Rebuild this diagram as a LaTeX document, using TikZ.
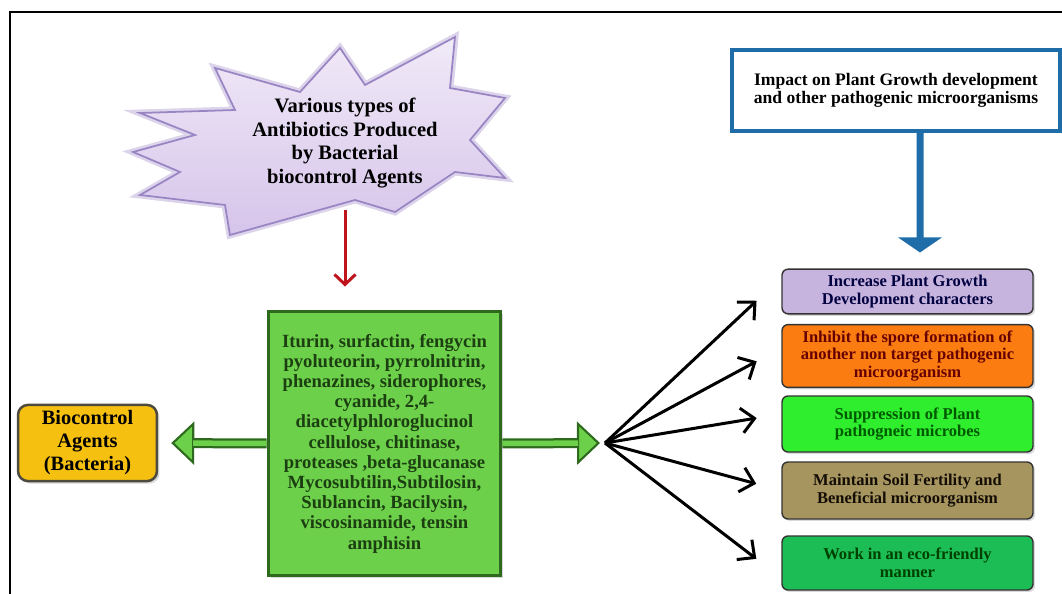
\documentclass[tikz,border=0pt]{standalone}
\usepackage{fontspec}
\setmainfont{Liberation Serif}
\usetikzlibrary{arrows.meta,shadows}
\definecolor{lila}{HTML}{D6C4EA}
\definecolor{lilaedge}{HTML}{9A85C4}
\definecolor{midgreen}{HTML}{6DD04A}
\definecolor{dkgreen}{HTML}{2E6A1E}
\definecolor{gold}{HTML}{F6C010}
\definecolor{impblue}{HTML}{1F6DA8}
\definecolor{redarrow}{HTML}{C0141C}
\definecolor{violet1}{HTML}{C7B4DE}
\definecolor{orange1}{HTML}{FB7D12}
\definecolor{green1}{HTML}{2EEE2E}
\definecolor{khaki1}{HTML}{A7955F}
\definecolor{green2}{HTML}{1DBD55}
\begin{document}
\begin{tikzpicture}[x=0.02cm,y=-0.02cm]
            \tikzset{s/.style={draw=black!80,line width=0.8pt,rounded corners=1.2mm,minimum width=5.02cm,align=center,font=\bfseries\fontsize{9.4}{10.2}\selectfont,drop shadow={opacity=0.3,shadow xshift=0.04cm,shadow yshift=-0.04cm}},
            fan/.style={line width=0.06cm,-{Straight Barb[length=0.26cm,width=0.5cm]}},
            gout/.style={line width=0.2cm,draw=dkgreen,-{Triangle[length=0.46cm,width=0.86cm,fill=midgreen,line width=1.2pt]}},
            gin/.style={line width=0.11cm,draw=midgreen}}
            \useasboundingbox(0,0)rectangle(1062,594);
            \draw[line width=1.3pt](10,594)--(10,12)--(1062,12);
            %    %%star
            \draw[line width=1pt,draw=lilaedge,top color=lila!35,bottom color=lila,line join=miter,preaction={draw=lilaedge!35,line width=0.14cm}]
            (133,152)--(195,135)--(140,113)--(235,110)--(215,68)--(300,92)--(340,48)--(365,85)--(455,37)--(450,88)--(505,98)--(470,140)--(505,178)--(455,172)--(395,212)--(355,200)--(230,235)--(225,205)--(140,195)--(180,172)--cycle;
            \node[align=center,font=\bfseries\fontsize{11.7}{13.4}\selectfont](burst) at (345,143){Various types of\\Antibiotics Produced\\by Bacterial\\biocontrol Agents};
            \coordinate(bb) at (345,210);
            %    %%boxes
            \node[draw=dkgreen,line width=0.06cm,fill=midgreen,minimum width=4.66cm,minimum height=5.3cm,align=center,text=dkgreen!60!black,font=\bfseries\fontsize{10.6}{11.5}\selectfont,drop shadow={opacity=0.3,shadow xshift=0.05cm,shadow yshift=-0.05cm}](mid) at (384.5,443.5){Iturin, surfactin, fengycin\\pyoluteorin, pyrrolnitrin,\\phenazines, siderophores,\\cyanide, 2,4-\\diacetylphloroglucinol\\cellulose, chitinase,\\proteases ,beta-glucanase\\Mycosubtilin,Subtilosin,\\Sublancin, Bacilysin,\\viscosinamide, tensin\\amphisin};
            \node[draw=black!80!yellow,line width=0.05cm,fill=gold,rounded corners=2mm,minimum width=2.78cm,minimum height=1.48cm,align=center,font=\bfseries\fontsize{11.6}{13.1}\selectfont,drop shadow={opacity=0.3,shadow xshift=0.05cm,shadow yshift=-0.05cm}](bca) at (87.5,443){Biocontrol\\Agents\\(Bacteria)};
            \node[draw=impblue,line width=0.08cm,fill=white,minimum width=6.56cm,minimum height=1.62cm,align=center,font=\bfseries\fontsize{10}{10.2}\selectfont](imp) at (896,90.5){Impact on Plant Growth development\\and other pathogenic microorganisms};
            \path(907.5,291.5)node[s,fill=violet1,minimum height=0.82cm,text=blue!25!black](r1){Increase Plant Growth\\Development characters}
            (907.5,356)node[s,fill=orange1,minimum height=1.16cm,text=red!40!black](r2){Inhibit the spore formation of\\another non target pathogenic\\microorganism}
            (907.5,424)node[s,fill=green1,minimum height=1.12cm,text=green!35!black](r3){Suppression of Plant\\pathogneic microbes}
            (907.5,490.5)node[s,fill=khaki1,minimum height=1.14cm,text=black!90!brown](r4){Maintain Soil Fertility and\\Beneficial microorganism}
            (907.5,563)node[s,fill=green2,minimum height=1.08cm,text=green!25!black](r5){Work in an eco-friendly\\manner};
            \coordinate(hub) at (605,443);
            %    %%arrows
            \draw[redarrow,line width=0.06cm,-{Straight Barb[length=0.2cm,width=0.42cm]},shorten >=0.46cm](bb)--(bb|-mid.north);
            \draw[impblue,line width=0.14cm,-{Triangle[length=0.3cm,width=0.86cm]},shorten >=0.32cm]([xshift=0.48cm]imp.south)--([xshift=0.25cm]r1.north);
            \draw[gout,shorten >=0.26cm](mid.west)--(bca.east);
            \draw[gin,shorten >=0.7cm](mid.west)--(bca.east);
            \draw[gout,shorten >=0.1cm](mid.east)--(hub);
            \draw[gin,shorten >=0.54cm](mid.east)--(hub);
            \foreach \t/\s/\l in {r1/0.28/0.68,r2/0.16/0.56,r3/0.2/0.5,r4/0/0.52,r5/-0.3/0.63}
            \draw[fan,shorten >=\l cm](hub)--([yshift=\s cm]\t.west);
        \end{tikzpicture}
\end{document}
